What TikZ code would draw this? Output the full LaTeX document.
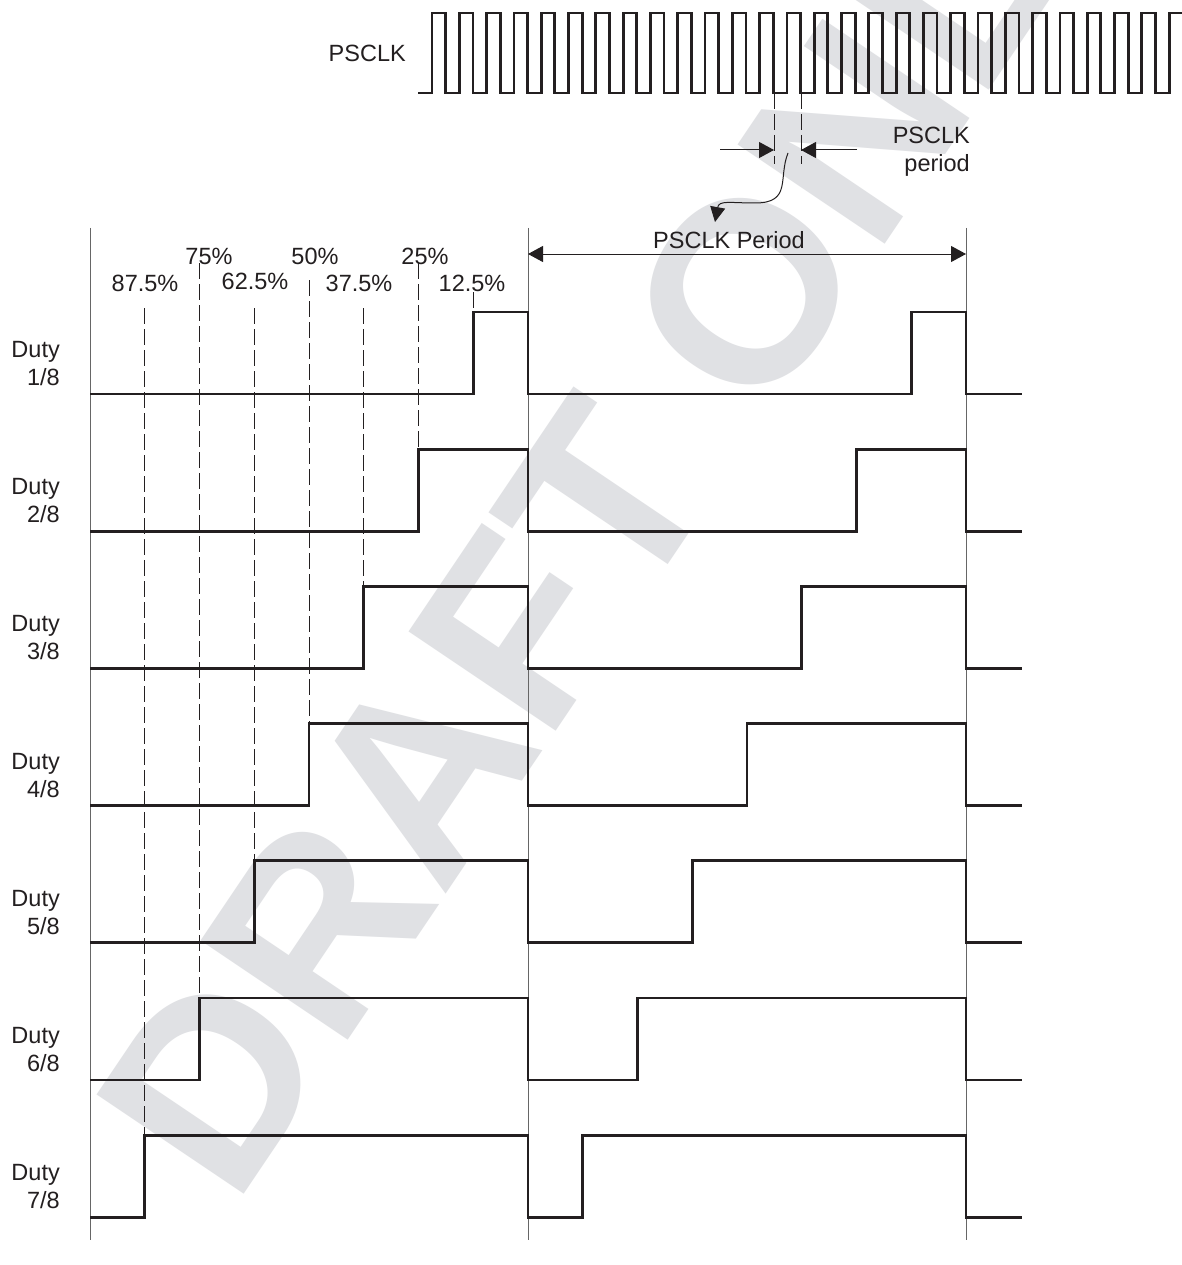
\documentclass[tikz,border=0pt]{standalone}
\usepackage{fontspec}
\setmainfont{Liberation Sans}
\usetikzlibrary{arrows.meta}
\definecolor{wmgray}{RGB}{224,225,228}
\definecolor{ink}{RGB}{35,31,32}
\begin{document}
\begin{tikzpicture}[x=1pt,y=-1pt,
  wave/.style={line width=2.8pt, ink, line join=miter},
  guide/.style={line width=0.9pt, black!60},
  dashguide/.style={line width=0.9pt, ink, dash pattern=on 16pt off 5pt},
  lbl/.style={font=\fontsize{23.5}{28}\selectfont, inner sep=0pt, text=ink},
  tip/.style={-{Triangle[length=15pt,width=16pt]}},
  tips/.style={{Triangle[length=15pt,width=16pt]}-{Triangle[length=15pt,width=16pt]}},
  conn/.style={line width=1pt, ink},
]
\useasboundingbox (0,0) rectangle (1181,1265);
\fill[white] (0,0) rectangle (1181,1265);

% watermark
\begin{scope}
  \clip (0,0) rectangle (1181,1265);
  \node[rotate=56, anchor=base west, inner sep=0pt, text=wmgray,
        font=\fontsize{258}{258}\selectfont\bfseries] (wm) at (234,1209) {DRAFT ONLY};
\end{scope}

% vertical period guides
\coordinate (gL1) at (90,228);   \coordinate (gL2) at (90,1240);
\coordinate (gM1) at (528,228);  \coordinate (gM2) at (528,1240);
\coordinate (gR1) at (966,228);  \coordinate (gR2) at (966,1240);
\draw[guide] (gL1) -- (gL2);
\draw[guide] (gM1) -- (gM2);
\draw[guide] (gR1) -- (gR2);

% PSCLK clock
\node[lbl, anchor=base east] (psclk) at (406,62) {PSCLK};
\draw[wave] (418,93) -- (432,93)
  \foreach \n in {0,...,26} { -- ++(0,-80) -- ++(13.65,0) -- ++(0,80) -- ++(13.65,0) }
  -- ++(0,-80) -- (1190,13);

% PSCLK period markers
\draw[dashguide, dash pattern=on 16pt off 5pt] (774,93) -- (774,164);
\draw[dashguide, dash pattern=on 16pt off 5pt] (801,93) -- (801,164);
\coordinate (la) at (720,150); \coordinate (lb) at (774,150);
\coordinate (ra) at (857,150); \coordinate (rb) at (801,150);
\draw[conn, tip] (la) -- (lb);
\draw[conn, tip] (ra) -- (rb);
\node[lbl, align=right, anchor=east] (pper) at (970,152) {PSCLK\\period};

% wavy pointer
\coordinate (wa) at (788,153);
\coordinate (wb) at (715,222);
\draw[conn, -{Triangle[length=15pt,width=15pt]}] (wa) .. controls (778,178) and (792,203) .. (755,203)
   .. controls (730,203) and (719,200) .. (wb);

% PWM period arrow
\coordinate (pa) at (528,254); \coordinate (pb) at (966,254);
\draw[conn, tips] (pa) -- (pb);
\node[lbl, anchor=base] (pwmp) at (729,248) {PSCLK Period};

% percentage labels
\node[lbl, anchor=base] (p875) at (145,291) {87.5\%};
\node[lbl, anchor=base] (p750) at (209,264) {75\%};
\node[lbl, anchor=base] (p625) at (255,289) {62.5\%};
\node[lbl, anchor=base] (p500) at (315,264) {50\%};
\node[lbl, anchor=base] (p375) at (359,291) {37.5\%};
\node[lbl, anchor=base] (p250) at (425,264) {25\%};
\node[lbl, anchor=base] (p125) at (472,291) {12.5\%};

% dashed duty guides
\foreach \k/\top in {1/308, 2/263, 3/308, 4/280, 5/308, 6/263, 7/292} {
  \pgfmathsetmacro\xx{90+\k*54.75}
  \pgfmathsetmacro\yb{312+(7-\k)*137.2}
  \draw[dashguide] (\xx,\top) -- (\xx,\yb);
}

% duty waveforms
\foreach \i in {1,...,7} {
  \pgfmathsetmacro\yl{394+(\i-1)*137.2}
  \pgfmathsetmacro\yh{\yl-82}
  \pgfmathsetmacro\ra{528-\i*54.75}
  \pgfmathsetmacro\rb{966-\i*54.75}
  \pgfmathsetmacro\yt{\yl-30.5}
  \draw[wave] (90,\yl) -- (\ra,\yl) -- (\ra,\yh) -- (528,\yh) -- (528,\yl)
     -- (\rb,\yl) -- (\rb,\yh) -- (966,\yh) -- (966,\yl) -- (1022,\yl);
  \node[lbl, align=right, anchor=east] (duty\i) at (60,\yt) {Duty\\\i/8};
}
\end{tikzpicture}
\end{document}
